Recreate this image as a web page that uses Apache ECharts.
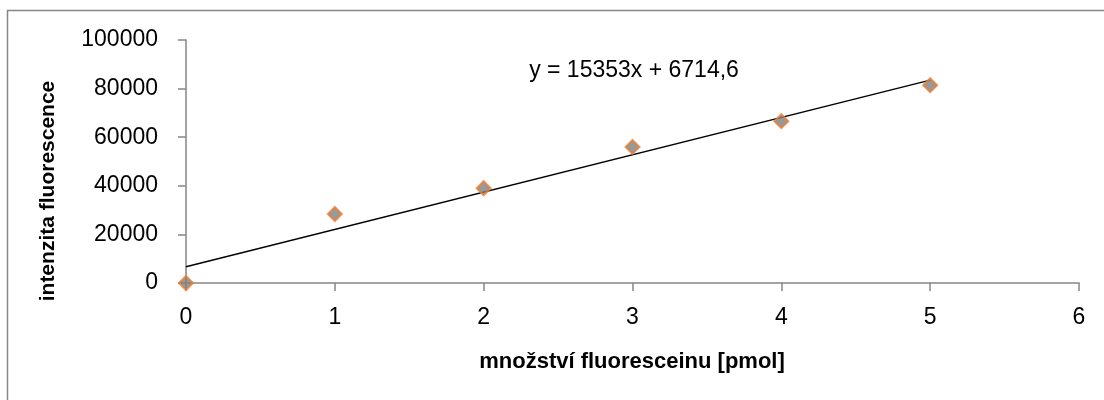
<!DOCTYPE html>
<html>
<head>
<meta charset="utf-8">
<script src="https://cdn.jsdelivr.net/npm/echarts@6/dist/echarts.min.js"></script>
<style>
  html, body { margin: 0; padding: 0; background: #fff; }
  #chart { width: 1104px; height: 400px; }
</style>
</head>
<body>
<div id="chart"></div>
<script>
// Data
var amounts = [0, 1, 2, 3, 4, 5];                         // množství fluoresceinu [pmol]
var intensities = [0, 28400, 39000, 56000, 66600, 81400]; // intenzita fluorescence
// Trend line endpoints (from the displayed equation y = 15353x + 6714,6)
var trendX = [0, 5];
var trendY = [6714.6, 83479.6];
var equationLabel = 'y = 15353x + 6714,6';
var xTitle = 'množství fluoresceinu [pmol]';
var yTitle = 'intenzita fluorescence';

var FONT = 'Liberation Sans';
var chart = echarts.init(document.getElementById('chart'), null, { renderer: 'canvas' });

var pointData = amounts.map(function (x, i) { return [x, intensities[i]]; });
var trendData = trendX.map(function (x, i) { return [x, trendY[i]]; });

chart.setOption({
  animation: false,
  backgroundColor: '#ffffff',
  grid: { left: 186, top: 40, right: 25, bottom: 117, containLabel: false },
  xAxis: {
    type: 'value', min: 0, max: 6, interval: 1,
    axisLine: { show: true, onZero: false, lineStyle: { color: '#868686', width: 1.5 } },
    axisTick: { show: true, length: 8, lineStyle: { color: '#868686', width: 1.5 } },
    splitLine: { show: false },
    axisLabel: { color: '#000', fontFamily: FONT, fontSize: 23, margin: 23 }
  },
  yAxis: {
    type: 'value', min: 0, max: 100000, interval: 20000,
    axisLine: { show: true, lineStyle: { color: '#868686', width: 1.5 } },
    axisTick: { show: true, length: 8, lineStyle: { color: '#868686', width: 1.5 } },
    splitLine: { show: false },
    axisLabel: { color: '#000', fontFamily: FONT, fontSize: 23, margin: 28,
      formatter: function (v) { return String(v); } }
  },
  series: [
    {
      type: 'line', data: trendData, symbol: 'none', silent: true,
      lineStyle: { color: '#000', width: 1.5 }, z: 2
    },
    {
      type: 'scatter', data: pointData, symbol: 'diamond', symbolSize: 14,
      itemStyle: { color: '#7f7f7f', borderColor: '#ED7D31', borderWidth: 2 }, z: 3
    }
  ],
  graphic: [
    { type: 'rect', shape: { x: 7.5, y: 10.5, width: 1200, height: 500 },
      style: { fill: 'none', stroke: '#868686', lineWidth: 1.5 }, silent: true, z: -1 },
    { type: 'text', x: 634, y: 71,
      style: { text: equationLabel, fill: '#000', font: '23px "' + FONT + '"', align: 'center', verticalAlign: 'middle' } },
    { type: 'text', x: 632, y: 362,
      style: { text: xTitle, fill: '#000', font: 'bold 22px "' + FONT + '"', align: 'center', verticalAlign: 'middle' } },
    { type: 'text', x: 48, y: 191, rotation: Math.PI / 2,
      style: { text: yTitle, fill: '#000', font: 'bold 21px "' + FONT + '"', align: 'center', verticalAlign: 'middle' } }
  ]
});
</script>
</body>
</html>
